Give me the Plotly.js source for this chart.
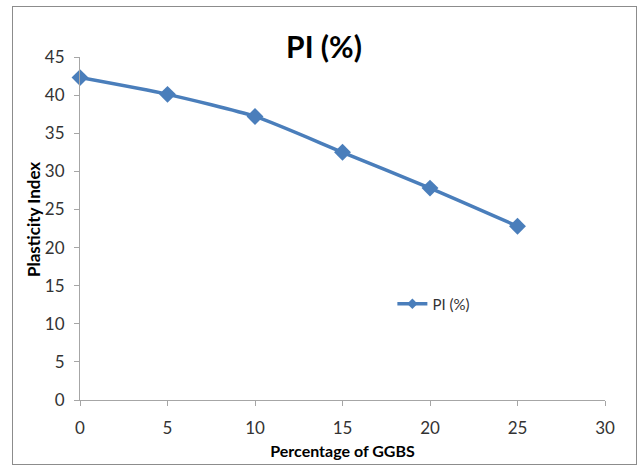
<!DOCTYPE html>
<html>
<head>
<meta charset="utf-8">
<script src="https://cdn.plot.ly/plotly-3.0.1.min.js"></script>
<style>
  html, body { margin: 0; padding: 0; background: #fff; }
  #wrap { position: relative; width: 640px; height: 466px; }
  #chart { width: 640px; height: 466px; }
  #frame { position: absolute; left: 12px; top: 6px; width: 623px; height: 457px;
           border: 1px solid #8c8c8c; pointer-events: none; }
</style>
</head>
<body>
<div id="wrap">
  <div id="chart"></div>
  <div id="frame"></div>
</div>
<script>
const ggbs = [0, 5, 10, 15, 20, 25];
const pi = [42.3, 40.1, 37.2, 32.5, 27.8, 22.8];
const seriesName = "PI (%)";
const chartTitle = "PI (%)";
const xTitle = "Percentage of GGBS";
const yTitle = "Plasticity Index";

const fontFam = 'Lato, "Open Sans", Roboto, sans-serif';
const blue = '#4a7ebb';

const trace = {
  x: ggbs, y: pi, name: seriesName, type: 'scatter', mode: 'lines+markers',
  showlegend: false, cliponaxis: false,
  line: { color: blue, width: 3.5, shape: 'spline', smoothing: 0.6 },
  marker: { symbol: 'diamond', size: 13, color: blue }
};
// legend entry (smaller marker as in the reference legend)
const legendTrace = {
  x: [null], y: [null], name: seriesName, type: 'scatter', mode: 'lines+markers',
  line: { color: blue, width: 3.5 },
  marker: { symbol: 'diamond', size: 8, color: blue }
};

const layout = {
  width: 640, height: 466,
  margin: { l: 80, r: 35, t: 57, b: 66 },
  paper_bgcolor: '#fff', plot_bgcolor: '#fff',
  font: { family: fontFam, color: '#333' },
  title: { text: '<b>' + chartTitle + '</b>', x: 324 / 640, xref: 'container', xanchor: 'center',
           y: 1 - 47 / 466, yref: 'container', yanchor: 'middle',
           font: { size: 30, color: '#000', family: fontFam } },
  xaxis: {
    range: [0, 30], dtick: 5, tick0: 0, showgrid: false, zeroline: false,
    showline: true, linecolor: '#a6a6a6', linewidth: 1,
    ticks: 'outside', ticklen: 5, tickcolor: '#a6a6a6',
    ticklabelstandoff: 8,
    tickfont: { size: 17, color: '#333' },
    title: { text: '<b>' + xTitle + '</b>', font: { size: 16, color: '#000' }, standoff: 8 }
  },
  yaxis: {
    range: [0, 45], dtick: 5, tick0: 0, showgrid: false, zeroline: false,
    showline: true, linecolor: '#a6a6a6', linewidth: 1,
    ticks: 'outside', ticklen: 5, tickcolor: '#a6a6a6',
    ticklabelstandoff: 6,
    tickfont: { size: 17, color: '#333' }
  },
  annotations: [{
    text: '<b>' + yTitle + '</b>', textangle: -90, showarrow: false,
    xref: 'paper', yref: 'paper', x: (33 - 80) / 525, y: (400 - 220) / 343,
    xanchor: 'center', yanchor: 'middle',
    font: { size: 17, color: '#000', family: fontFam }
  }],
  showlegend: true,
  legend: { x: 0.595, y: 0.28, xanchor: 'left', yanchor: 'middle', bgcolor: 'rgba(0,0,0,0)',
            font: { size: 15, color: '#333' }, itemwidth: 30 }
};

Plotly.newPlot('chart', [trace, legendTrace], layout, { displayModeBar: false, staticPlot: true });
</script>
</body>
</html>
